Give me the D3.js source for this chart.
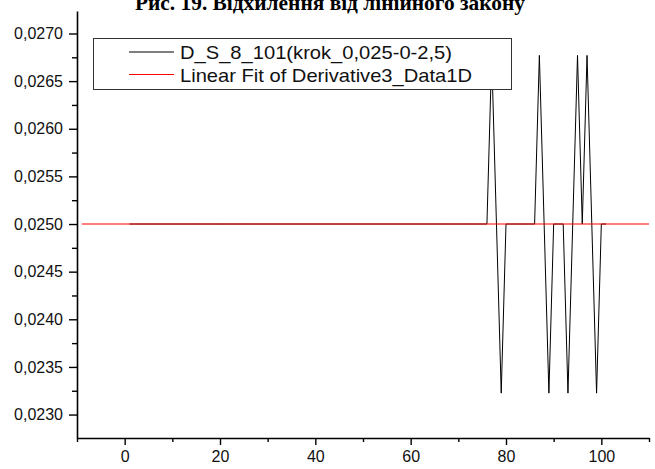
<!DOCTYPE html>
<html>
<head>
<meta charset="utf-8">
<script src="https://cdn.jsdelivr.net/npm/d3@7"></script>
<style>
  html, body { margin: 0; padding: 0; background: #fff; }
  svg { display: block; }
</style>
</head>
<body>
<svg id="chart" width="655" height="469"></svg>
<script>
// ---- data ----
const titleText = "Рис. 19. Відхилення від лінійного закону";
const seriesName = "D_S_8_101(krok_0,025-0-2,5)";
const fitName = "Linear Fit of Derivative3_Data1D";
const xValues = d3.range(1, 102); // 1..101
const baseValue = 0.025;
const peakValue = 0.02677;
const troughValue = 0.023225;
const spikeX = [77, 79, 87, 89, 93, 95, 97, 99];
const spikeY = [peakValue, troughValue, peakValue, troughValue, troughValue, peakValue, peakValue, troughValue];
const yValues = xValues.map(v => {
  const i = spikeX.indexOf(v);
  return i >= 0 ? spikeY[i] : baseValue;
});
const fitX = [-9, 110];
const fitY = [0.025, 0.025];
const xMajorTicks = [0, 20, 40, 60, 80, 100];
const xMinorTicks = [-10, 10, 30, 50, 70, 90, 110];
const yMajorTicks = [0.0230, 0.0235, 0.0240, 0.0245, 0.0250, 0.0255, 0.0260, 0.0265, 0.0270];
const yMinorTicks = [0.02325, 0.02375, 0.02425, 0.02475, 0.02525, 0.02575, 0.02625, 0.02675];

// ---- layout ----
const svg = d3.select("#chart");
const mLeft = 77, mRight = 649, mTop = 11, mBottom = 438;
const xs = d3.scaleLinear().domain([-10, 110]).range([mLeft, mRight]);
const ys = d3.scaleLinear().domain([0.022754, 0.027236]).range([mBottom, mTop]);
const fmt = v => d3.format(".4f")(v).replace(".", ",");

// title (partially clipped at top, as in the reference)
svg.append("text")
  .attr("x", 330).attr("y", 9.5)
  .attr("text-anchor", "middle")
  .attr("font-family", "Liberation Serif, Times New Roman, serif")
  .attr("font-weight", "bold")
  .attr("font-size", 21)
  .attr("textLength", 390)
  .attr("lengthAdjust", "spacingAndGlyphs")
  .text(titleText);

// data lines
const line = d3.line().x(d => xs(d[0])).y(d => ys(d[1]));
svg.append("path")
  .datum(xValues.map((v, i) => [v, yValues[i]]))
  .attr("d", line)
  .attr("fill", "none")
  .attr("stroke", "#000")
  .attr("stroke-width", 1);
svg.append("path")
  .datum(fitX.map((v, i) => [v, fitY[i]]))
  .attr("d", line)
  .attr("fill", "none")
  .attr("stroke", "#ff0000")
  .attr("stroke-width", 1.2);

// axes
const axisFont = "Liberation Sans, Arial, sans-serif";
const yAxis = svg.append("g").attr("transform", `translate(${mLeft},0)`)
  .call(d3.axisLeft(ys).tickValues(yMajorTicks).tickFormat(fmt).tickSize(8).tickSizeOuter(0).tickPadding(6));
yAxis.append("g").call(d3.axisLeft(ys).tickValues(yMinorTicks).tickFormat("").tickSize(5).tickSizeOuter(0))
  .select(".domain").remove();
const xAxis = svg.append("g").attr("transform", `translate(0,${mBottom})`)
  .call(d3.axisBottom(xs).tickValues(xMajorTicks).tickFormat(d3.format("d")).tickSize(7).tickSizeOuter(0).tickPadding(6));
xAxis.append("g").call(d3.axisBottom(xs).tickValues(xMinorTicks).tickFormat("").tickSize(4).tickSizeOuter(0))
  .select(".domain").remove();
svg.selectAll(".domain").attr("stroke", "#000").attr("stroke-width", 1.6);
svg.selectAll(".tick line").attr("stroke", "#000").attr("stroke-width", 1.4);
svg.selectAll(".tick text").attr("font-family", axisFont).attr("font-size", 16).attr("fill", "#111");

// legend
const lg = svg.append("g");
lg.append("rect").attr("x", 93.5).attr("y", 38.5).attr("width", 418).attr("height", 51)
  .attr("fill", "#fff").attr("stroke", "#333").attr("stroke-width", 1);
const items = [[seriesName, "#000", 272], [fitName, "#ff0000", 292]];
items.forEach((it, i) => {
  const yy = 52 + i * 22.5;
  lg.append("line").attr("x1", 129).attr("x2", 174).attr("y1", yy).attr("y2", yy)
    .attr("stroke", it[1]).attr("stroke-width", 1);
  lg.append("text").attr("x", 180).attr("y", yy + 7)
    .attr("font-family", axisFont).attr("font-size", 19).attr("fill", "#111")
    .attr("textLength", it[2]).attr("lengthAdjust", "spacingAndGlyphs")
    .text(it[0]);
});
</script>
</body>
</html>
